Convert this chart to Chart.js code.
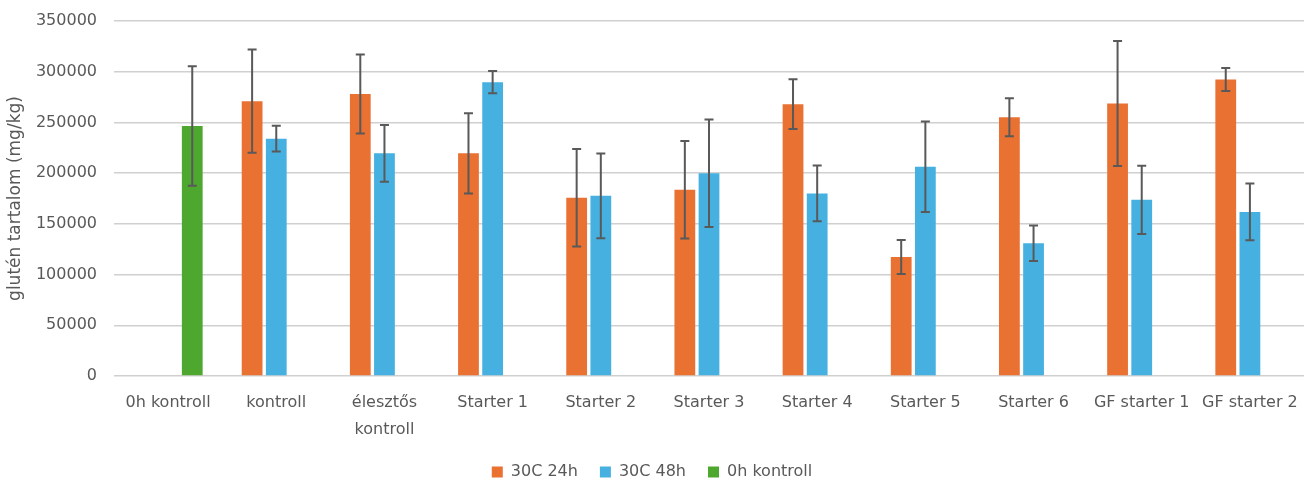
<!DOCTYPE html>
<html>
<head>
<meta charset="utf-8">
<script src="https://cdn.jsdelivr.net/npm/chart.js@4"></script>
<style>
  html, body { margin: 0; padding: 0; background: #fff; }
  #wrap { width: 1304px; height: 479px; }
</style>
</head>
<body>
<div id="wrap"><canvas id="chart"></canvas></div>
<script>
const categories = ['0h kontroll', 'kontroll', ['élesztős', 'kontroll'], 'Starter 1', 'Starter 2', 'Starter 3',
    'Starter 4', 'Starter 5', 'Starter 6', 'GF starter 1', 'GF starter 2'];

// 30C 24h
const h24 = [null, 271000, 278000, 219500, 175700, 183600, 268000, 117300, 255100, 268600, 292300];
const h24Err = [null, 51000, 39000, 39500, 48000, 48000, 24600, 16800, 18700, 61600, 11400];
// 30C 48h
const h48 = [null, 234000, 219500, 289700, 177600, 200000, 180000, 206300, 130800, 173700, 161800];
const h48Err = [null, 12700, 28000, 11000, 41700, 53000, 27500, 44600, 17500, 33600, 28000];
// 0h kontroll
const k0 = [246500, null, null, null, null, null, null, null, null, null, null];
const k0Err = [59000, null, null, null, null, null, null, null, null, null, null];

const FONT = 'DejaVu Sans';
const GREY = '#595959';

// draws the +/- error bars from the dataset's errors array
const errorBars = {
    id: 'errorBars',
    afterDatasetsDraw(chart) {
        const ctx = chart.ctx;
        const yScale = chart.scales.y;
        chart.data.datasets.forEach((ds, i) => {
            const meta = chart.getDatasetMeta(i);
            meta.data.forEach((bar, j) => {
                const v = ds.data[j];
                const e = ds.errors[j];
                if (v == null || e == null) return;
                const top = yScale.getPixelForValue(v + e);
                const bottom = yScale.getPixelForValue(v - e);
                ctx.save();
                ctx.strokeStyle = GREY;
                ctx.lineWidth = 2;
                ctx.beginPath();
                ctx.moveTo(bar.x, top);
                ctx.lineTo(bar.x, bottom);
                ctx.moveTo(bar.x - 4.5, top);
                ctx.lineTo(bar.x + 4.5, top);
                ctx.moveTo(bar.x - 4.5, bottom);
                ctx.lineTo(bar.x + 4.5, bottom);
                ctx.stroke();
                ctx.restore();
            });
        });
    }
};

new Chart(document.getElementById('chart').getContext('2d'), {
    type: 'bar',
    data: {
        labels: categories,
        datasets: [
            { label: '30C 24h', data: h24, errors: h24Err, backgroundColor: '#E97132' },
            { label: '30C 48h', data: h48, errors: h48Err, backgroundColor: '#46B1E1' },
            { label: '0h kontroll', data: k0, errors: k0Err, backgroundColor: '#4EA72E' }
        ]
    },
    options: {
        responsive: true,
        maintainAspectRatio: false,
        animation: false,
        layout: { padding: { left: 0, right: 0, top: 21, bottom: -11 } },
        datasets: {
            bar: { categoryPercentage: 0.67, barPercentage: 0.86 }
        },
        plugins: {
            tooltip: { enabled: false },
            legend: {
                position: 'bottom',
                labels: {
                    boxWidth: 11,
                    boxHeight: 11,
                    padding: 22,
                    color: GREY,
                    font: { family: FONT, size: 16 }
                }
            }
        },
        scales: {
            x: {
                grid: { display: false },
                border: { display: false },
                ticks: {
                    color: GREY,
                    font: { family: FONT, size: 16, lineHeight: 1.7 },
                    padding: 5,
                    maxRotation: 0,
                    autoSkip: false
                },
                afterFit(scale) {
                    scale.height = 66;
                    scale.paddingLeft = 0;
                    scale.paddingRight = 0;
                }
            },
            y: {
                min: 0,
                max: 350000,
                border: { display: false },
                grid: { color: '#d0d0d0', lineWidth: 1.5, drawTicks: false },
                ticks: {
                    stepSize: 50000,
                    color: GREY,
                    padding: 17,
                    font: { family: FONT, size: 16 },
                    callback: value => String(value)
                },
                title: {
                    display: true,
                    text: 'glutén tartalom (mg/kg)',
                    color: GREY,
                    font: { family: FONT, size: 17 },
                    padding: { top: 5, bottom: 0 }
                },
                afterFit(scale) {
                    scale.width = 114;
                    scale.paddingTop = 0;
                    scale.paddingBottom = 0;
                }
            }
        }
    },
    plugins: [errorBars]
});
</script>
</body>
</html>
